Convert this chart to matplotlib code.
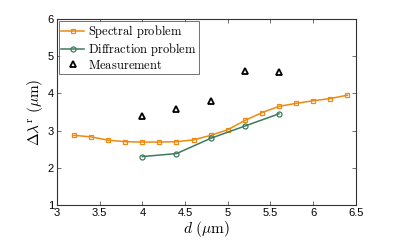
import matplotlib
matplotlib.use("Agg")
import matplotlib.pyplot as plt

plt.rcParams['mathtext.fontset'] = 'cm'
plt.rcParams['font.family'] = ['Liberation Sans', 'DejaVu Sans']

spec_d = [3.2, 3.4, 3.6, 3.8, 4.0, 4.2, 4.4, 4.6, 4.8, 5.0, 5.2, 5.4, 5.6, 5.8, 6.0, 6.2, 6.4]
spec_v = [2.87, 2.83, 2.74, 2.70, 2.69, 2.69, 2.70, 2.75, 2.87, 3.02, 3.27, 3.48, 3.65, 3.73, 3.80, 3.86, 3.95]
diff_d = [4.0, 4.4, 4.8, 5.2, 5.6]
diff_v = [2.30, 2.38, 2.79, 3.12, 3.45]
meas_d = [4.0, 4.4, 4.8, 5.2, 5.6]
meas_v = [3.40, 3.57, 3.80, 4.61, 4.57]
xticks = [3, 3.5, 4, 4.5, 5, 5.5, 6, 6.5]
xticklabels = ['3', '3.5', '4', '4.5', '5', '5.5', '6', '6.5']
yticks = [1, 2, 3, 4, 5, 6]

orange = '#EC8A12'
green = '#3D7B5C'

fig = plt.figure(figsize=(3.95, 2.49), dpi=100)
ax = fig.add_axes([0.144, 0.177, 0.757, 0.747])

ax.plot(spec_d, spec_v, color=orange, lw=1.1, marker='s', ms=3.2, mfc='none',
        mec=orange, mew=0.9, label=r'$\mathrm{Spectral\ problem}$')
ax.plot(diff_d, diff_v, color=green, lw=1.1, marker='o', ms=3.6, mfc='none',
        mec=green, mew=0.9, label=r'$\mathrm{Diffraction\ problem}$')
ax.plot(meas_d, meas_v, ls='none', marker='^', ms=4.8, mfc='none', mec='black',
        mew=1.3, label=r'$\mathrm{Measurement}$')

ax.set_xlim(3, 6.5)
ax.set_ylim(1, 6)
ax.set_xticks(xticks)
ax.set_xticklabels(xticklabels)
ax.set_yticks(yticks)
ax.tick_params(direction='in', top=True, right=True, length=3, width=0.6,
               labelsize=8, pad=2, color='#555555')
for s in ax.spines.values():
    s.set_linewidth(0.8)
    s.set_color('#333333')

ax.set_xlabel(r'$d\ \mathrm{(\mu m)}$', fontsize=11, labelpad=1)
ax.set_ylabel(r'$\Delta\lambda^{\mathrm{r}}\ \mathrm{(\mu m)}$', fontsize=11, labelpad=2)

leg = ax.legend(loc='upper left', fontsize=9, frameon=True, fancybox=False,
                borderpad=0.2, labelspacing=0.05, handlelength=1.8,
                handletextpad=0.3, borderaxespad=0.15)
leg.get_frame().set_edgecolor('#333333')
leg.get_frame().set_linewidth(0.6)

fig.savefig('out.png', dpi=100)
